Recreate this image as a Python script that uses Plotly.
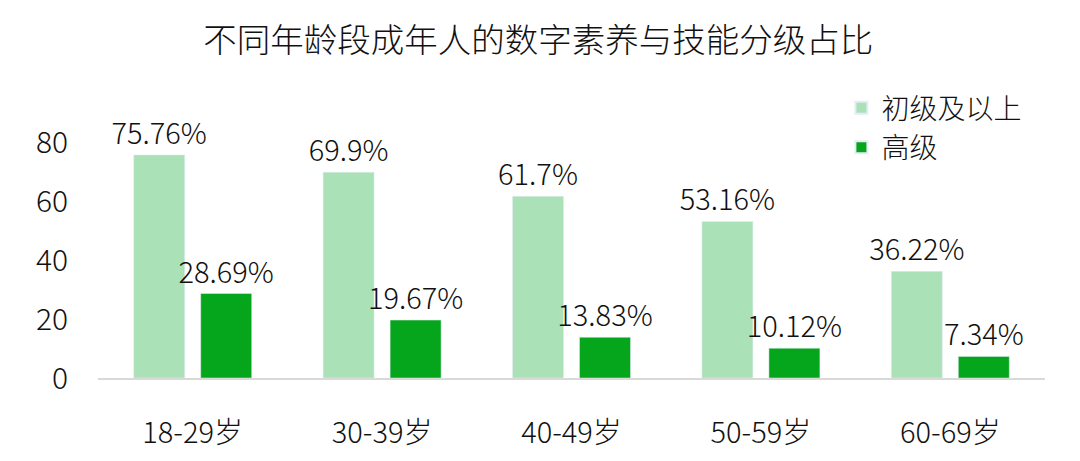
import plotly.graph_objects as go

# age groups and shares (%)
age_groups = ['18-29岁', '30-39岁', '40-49岁', '50-59岁', '60-69岁']
basic_and_above = [75.76, 69.9, 61.7, 53.16, 36.22]
advanced = [28.69, 19.67, 13.83, 10.12, 7.34]
y_ticks = [0, 20, 40, 60, 80]

FONT = 'Noto Sans CJK SC'
LIGHT = '#ABE1B7'
DARK = '#05A61C'
INK = '#111111'

fig = go.Figure()
fig.add_trace(go.Bar(
    x=age_groups, y=basic_and_above, name='初级及以上',
    marker=dict(color=LIGHT),
    text=[f'{v}%' for v in basic_and_above], textposition='outside',
    constraintext='none',
    textfont=dict(size=29, color=INK, weight=300), cliponaxis=False,
))
fig.add_trace(go.Bar(
    x=age_groups, y=advanced, name='高级',
    marker=dict(color=DARK),
    text=[f'{v}%' for v in advanced], textposition='outside',
    constraintext='none',
    textfont=dict(size=29, color=INK, weight=300), cliponaxis=False,
))

# page has an 8px body margin, so margins are shifted by that
fig.update_layout(
    width=1080, height=461,
    margin=dict(l=90, r=43, t=105, b=91),
    paper_bgcolor='white', plot_bgcolor='white',
    font=dict(family=FONT, size=28, color=INK, weight=300),
    title=dict(text='不同年龄段成年人的数字素养与技能分级占比',
               x=0.491, xanchor='center', y=0.93, yanchor='middle',
               font=dict(size=33.5, color=INK, weight=300)),
    barmode='group', bargap=0.2925, bargroupgap=0.239,
    showlegend=True,
    legend=dict(x=0.785, y=1.113, xanchor='left', yanchor='top',
                font=dict(size=28, weight=300), bgcolor='rgba(0,0,0,0)',
                tracegroupgap=0, itemsizing='constant'),
)
fig.update_xaxes(showline=True, linecolor='#D9D9D9', linewidth=1.5,
                 showgrid=False, ticks='', ticklabelstandoff=28,
                 tickfont=dict(size=29, weight=300), automargin=False)
fig.update_yaxes(range=[0, 90], tickvals=y_ticks, showgrid=False,
                 zeroline=False, showline=False, ticks='',
                 ticklabelstandoff=29, tickfont=dict(size=30, weight=300),
                 automargin=False)

fig.write_html('out.html')
